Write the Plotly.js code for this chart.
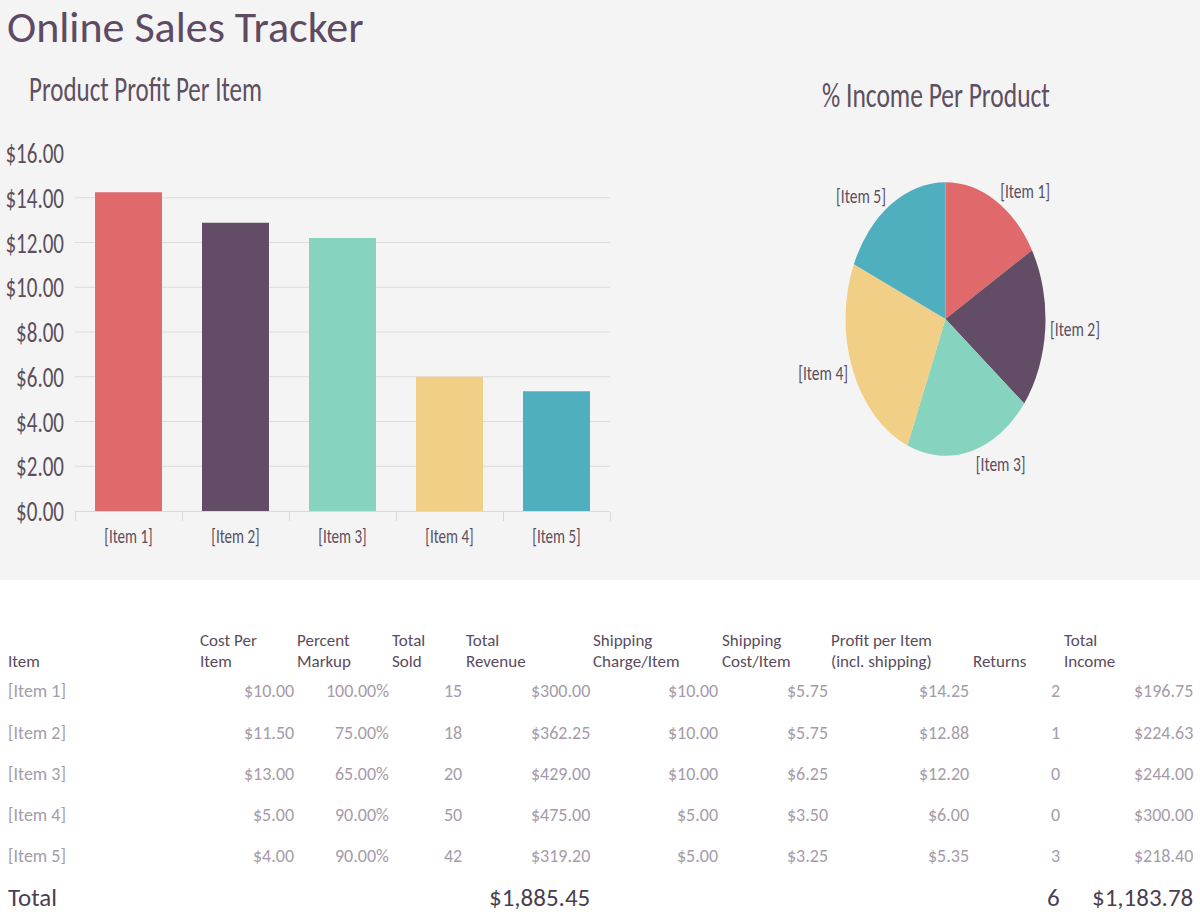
<!DOCTYPE html>
<html>
<head>
<meta charset="utf-8">
<script src="https://cdn.plot.ly/plotly-3.0.1.min.js"></script>
<style>
  html, body { margin: 0; padding: 0; background: #ffffff; }
  #wrap { position: relative; width: 1200px; height: 915px; overflow: hidden; }
  #main { position: absolute; left: 0; top: 0; width: 1200px; height: 915px; }
  #charts { position: absolute; left: 0; top: 0; width: 1200px; height: 424px;
            transform-origin: 0 0; transform: scaleY(1.3679); }
</style>
</head>
<body>
<div id="wrap">
  <div id="main"></div>
  <div id="charts"></div>
</div>
<script>
// ---------- data ----------
const items = ["[Item 1]", "[Item 2]", "[Item 3]", "[Item 4]", "[Item 5]"];
const costPerItem = [10.00, 11.50, 13.00, 5.00, 4.00];
const percentMarkup = [100, 75, 65, 90, 90];
const totalSold = [15, 18, 20, 50, 42];
const totalRevenue = [300.00, 362.25, 429.00, 475.00, 319.20];
const shippingCharge = [10.00, 10.00, 10.00, 5.00, 5.00];
const shippingCost = [5.75, 5.75, 6.25, 3.50, 3.25];
const profitPerItem = [14.25, 12.88, 12.20, 6.00, 5.35];
const returnsCount = [2, 1, 0, 0, 3];
const totalIncome = [196.75, 224.63, 244.00, 300.00, 218.40];
const totalRevenueSum = 1885.45;
const returnsSum = 6;
const totalIncomeSum = 1183.78;

const headers = [
  ["Item"], ["Cost Per", "Item"], ["Percent", "Markup"], ["Total", "Sold"],
  ["Total", "Revenue"], ["Shipping", "Charge/Item"], ["Shipping", "Cost/Item"],
  ["Profit per Item", "(incl. shipping)"], ["Returns"], ["Total", "Income"]
];

const colors = ["#E06A6B", "#634D66", "#86D3C0", "#F2CF86", "#4FAFBF"];

// ---------- helpers ----------
const money = v => "$" + v.toLocaleString("en-US", {minimumFractionDigits: 2, maximumFractionDigits: 2});
const pct = v => v.toFixed(2) + "%";

const FONT = "Carlito, Lato, 'Open Sans', sans-serif";
const W = 1200, H = 915;
const px = x => x / W;
const py = y => 1 - y / H;

// ---------- main figure: title + table ----------
const ann = [];
ann.push({text: "Online Sales Tracker", x: px(5), y: py(-2), xref: "paper", yref: "paper",
  xanchor: "left", yanchor: "top", showarrow: false,
  font: {family: FONT, size: 44, color: "#5E4A63"}});

// header positions (left edges)
const headLeft = [8, 200, 297, 392, 466, 593, 722, 831, 973, 1064].map(v => v - 1);
const headLine1 = 640.5, headLine2 = 661;
headers.forEach((h, i) => {
  const lines = h.length === 2 ? [[h[0], headLine1], [h[1], headLine2]] : [[h[0], headLine2]];
  lines.forEach(([t, y]) => ann.push({text: t, x: px(headLeft[i]), y: py(y), xref: "paper", yref: "paper",
    xanchor: "left", yanchor: "middle", showarrow: false, borderpad: 0,
    font: {family: FONT, size: 17, color: "#5A4B5E"}}));
});

const rowY = [691, 733, 774, 815, 856];
const colRight = [294, 389, 462, 590, 718, 828, 969, 1060, 1193].map(v => v + 2);
const dataCols = [
  costPerItem.map(money), percentMarkup.map(pct), totalSold.map(String), totalRevenue.map(money),
  shippingCharge.map(money), shippingCost.map(money), profitPerItem.map(money),
  returnsCount.map(String), totalIncome.map(money)
];
const dataColor = "#A69BA9";
items.forEach((it, r) => {
  ann.push({text: it, x: px(6), y: py(rowY[r]), xref: "paper", yref: "paper",
    xanchor: "left", yanchor: "middle", showarrow: false,
    font: {family: FONT, size: 18, color: dataColor}});
  dataCols.forEach((col, c) => ann.push({text: col[r], x: px(colRight[c]), y: py(rowY[r]), xref: "paper", yref: "paper",
    xanchor: "right", yanchor: "middle", showarrow: false,
    font: {family: FONT, size: 18, color: dataColor}}));
});
const totY = 897;
const totFont = {family: FONT, size: 25, color: "#4B3F4F"};
ann.push({text: "Total", x: px(6), y: py(totY), xref: "paper", yref: "paper", xanchor: "left", yanchor: "middle", showarrow: false, font: totFont});
ann.push({text: money(totalRevenueSum), x: px(592), y: py(totY), xref: "paper", yref: "paper", xanchor: "right", yanchor: "middle", showarrow: false, font: totFont});
ann.push({text: String(returnsSum), x: px(1062), y: py(totY), xref: "paper", yref: "paper", xanchor: "right", yanchor: "middle", showarrow: false, font: totFont});
ann.push({text: money(totalIncomeSum), x: px(1195), y: py(totY), xref: "paper", yref: "paper", xanchor: "right", yanchor: "middle", showarrow: false, font: totFont});

Plotly.newPlot("main", [], {
  width: W, height: H, margin: {l: 0, r: 0, t: 0, b: 0},
  paper_bgcolor: "#FFFFFF", plot_bgcolor: "#FFFFFF",
  xaxis: {visible: false}, yaxis: {visible: false},
  shapes: [{type: "rect", xref: "paper", yref: "paper", x0: 0, x1: 1, y0: py(580), y1: 1,
    fillcolor: "#F4F4F4", line: {width: 0}, layer: "below"}],
  annotations: ann, showlegend: false
}, {staticPlot: true});

// ---------- charts figure (drawn at 1/1.3679 height, stretched vertically) ----------
const CH = 424;
const cy = y => 1 - y / CH;   // y in pre-stretch px

const barTrace = {
  type: "bar", x: items, y: profitPerItem, marker: {color: colors, line: {width: 0}},
  xaxis: "x", yaxis: "y", hoverinfo: "none"
};
const pieTrace = {
  type: "pie", labels: items, values: totalIncome, sort: false, direction: "clockwise", rotation: 0,
  marker: {colors: colors, line: {width: 0}},
  textposition: "outside", textinfo: "label",
  outsidetextfont: {family: FONT, size: 15.5, color: "#5B4F5E"},
  domain: {x: [px(845.5), px(1045.5)], y: [cy(333.2), cy(133.2)]},
  hoverinfo: "none", showlegend: false
};

Plotly.newPlot("charts", [barTrace, pieTrace], {
  width: W, height: CH, margin: {l: 0, r: 0, t: 0, b: 0},
  paper_bgcolor: "rgba(0,0,0,0)", plot_bgcolor: "rgba(0,0,0,0)",
  bargap: 0.374, showlegend: false,
  font: {family: FONT, color: "#5B4F5E"},
  xaxis: {domain: [px(75), px(610)], showline: true, linecolor: "#D9D9D9", linewidth: 1,
    ticks: "outside", tickson: "boundaries", ticklen: 6, tickcolor: "#D9D9D9",
    ticklabelstandoff: 4,
    tickfont: {family: FONT, size: 15, color: "#5B4F5E"}, showgrid: false, fixedrange: true},
  yaxis: {domain: [cy(373.6), cy(111.85)], range: [0, 16], dtick: 2, tickprefix: "$", tickformat: ".2f",
    showgrid: true, gridcolor: "#DCDCDC", gridwidth: 0.8, zeroline: false, showline: false, ticks: "",
    ticklabelstandoff: 10, tickfont: {family: FONT, size: 21, color: "#5B4F5E"}, fixedrange: true},
  annotations: [
    {text: "Product Profit Per Item", x: px(27), y: cy(65), xref: "paper", yref: "paper",
      xanchor: "left", yanchor: "middle", showarrow: false, font: {family: FONT, size: 25, color: "#5E4F61"}},
    {text: "% Income Per Product", x: px(936), y: cy(69.4), xref: "paper", yref: "paper",
      xanchor: "center", yanchor: "middle", showarrow: false, font: {family: FONT, size: 25.5, color: "#5E4F61"}}
  ]
}, {staticPlot: true});
</script>
</body>
</html>
